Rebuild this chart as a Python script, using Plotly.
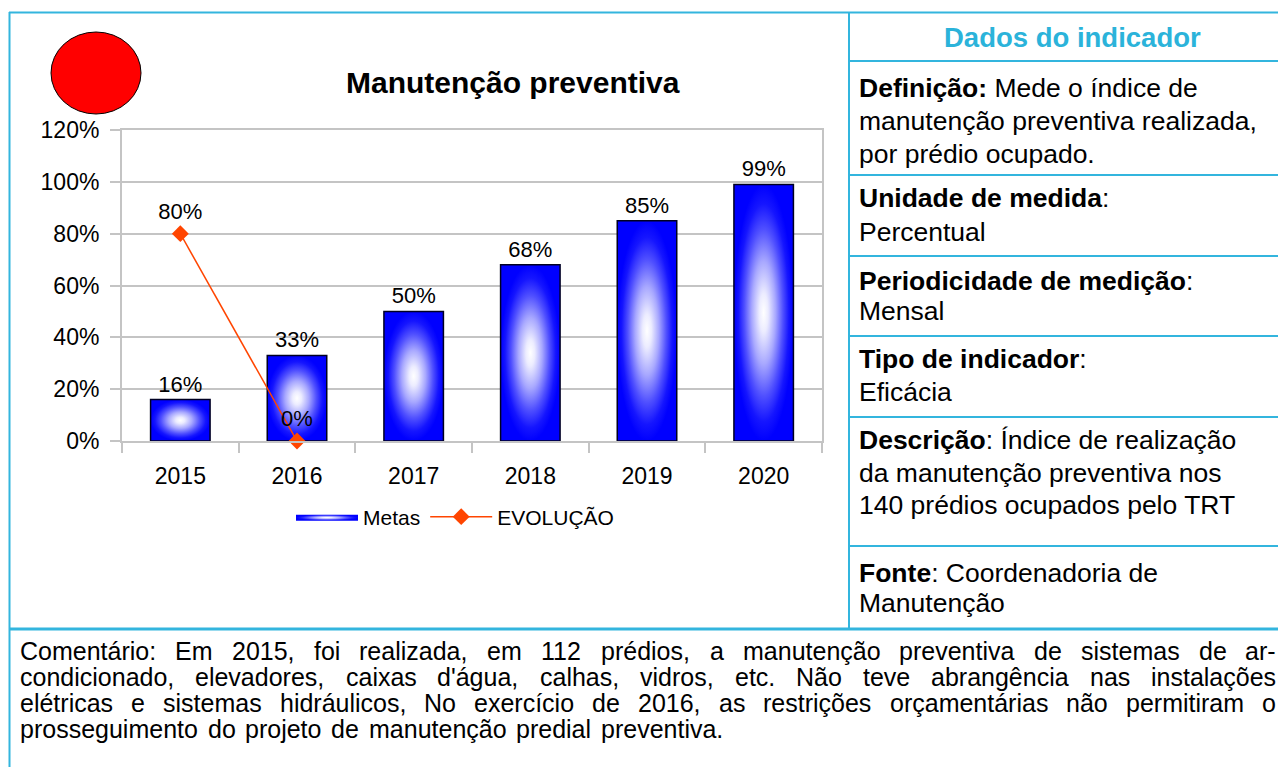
import plotly.graph_objects as go

# ---------------- data ----------------
years = ["2015", "2016", "2017", "2018", "2019", "2020"]
metas = [0.16, 0.33, 0.50, 0.68, 0.85, 0.99]
evolucao_years = ["2015", "2016"]
evolucao = [0.80, 0.00]
y_ticks = [0, 0.2, 0.4, 0.6, 0.8, 1.0, 1.2]

chart_title = "Manutenção preventiva"
panel_title = "Dados do indicador"
panel_lines = [
    "<b>Definição:</b> Mede o índice de",
    "manutenção preventiva realizada,",
    "por prédio ocupado.",
    "<b>Unidade de medida</b>:",
    "Percentual",
    "<b>Periodicidade de medição</b>:",
    "Mensal",
    "<b>Tipo de indicador</b>:",
    "Eficácia",
    "<b>Descrição</b>: Índice de realização",
    "da manutenção preventiva nos",
    "140 prédios ocupados pelo TRT",
    "<b>Fonte</b>: Coordenadoria de",
    "Manutenção",
]
comment_lines = [
    "Comentário: Em 2015, foi realizada, em 112 prédios, a manutenção preventiva de sistemas de ar-",
    "condicionado, elevadores, caixas d'água, calhas, vidros, etc. Não teve abrangência nas instalações",
    "elétricas e sistemas hidráulicos, No exercício de 2016, as restrições orçamentárias não permitiram o",
    "prosseguimento do projeto de manutenção predial preventiva.",
]

# ---------------- layout constants ----------------
W, H = 1286, 767          # browser window
OFF = 8                   # default page body margin
FW, FH = W - OFF, H - OFF # figure size
FONT = "Liberation Sans, Arial, sans-serif"
CYAN = "#33B5DE"
GRID = "#c4c4c4"


def px(x):
    return (x - OFF) / FW


def py(y):
    return 1 - (y - OFF) / FH


# Arial advance widths (per 1000 em)
AW = {' ': 278, ',': 278, '.': 278, ':': 278, '-': 333, "'": 191, '%': 889}
for d in "0123456789":
    AW[d] = 556
AW.update(dict(A=667, B=667, C=722, D=722, E=667, F=611, G=778, H=722, I=278, J=500,
               K=667, L=556, M=833, N=722, O=778, P=667, Q=778, R=722, S=667, T=611,
               U=722, V=667, W=944, X=667, Y=667, Z=611))
AW.update(dict(a=556, b=556, c=500, d=556, e=556, f=278, g=556, h=556, i=222, j=222,
               k=500, l=222, m=833, n=556, o=556, p=556, q=556, r=333, s=500, t=278,
               u=556, v=500, w=722, x=500, y=500, z=500))
AW.update({'á': 556, 'à': 556, 'â': 556, 'ã': 556, 'é': 556, 'ê': 556, 'í': 278,
           'ó': 556, 'ô': 556, 'õ': 556, 'ú': 556, 'ç': 500})


def text_w(s, size):
    return sum(AW.get(ch, 556) for ch in s) * size / 1000.0


fig = go.Figure()

# gradient-filled bars (Metas)
BW = 0.51
GRAD = [[0, "#ffffff"], [0.15, "#ececff"], [0.4, "#a8a8ff"], [0.65, "#5050ff"],
        [0.85, "#1515ff"], [1, "#0000ff"]]
for i, v in enumerate(metas):
    fig.add_trace(go.Scatter(
        x=[i - BW / 2, i + BW / 2, i + BW / 2, i - BW / 2, i - BW / 2],
        y=[0, 0, v, v, 0],
        mode="lines", fill="toself",
        line=dict(width=0, color="blue"),
        fillgradient=dict(type="radial", colorscale=GRAD),
        name="Metas", legendgroup="metas", showlegend=(i == 0),
        hoverinfo="skip",
    ))

# bar outlines + labels (on overlay axis that also carries the year labels)
fig.add_trace(go.Bar(
    x=list(range(len(years))), y=metas, width=BW, xaxis="x2",
    marker=dict(color="rgba(0,0,0,0)", line=dict(color="#000022", width=1.5)),
    text=[f"{round(v * 100)}%" for v in metas], textposition="outside",
    textfont=dict(size=22, color="black", family=FONT),
    cliponaxis=False, showlegend=False, name="Metas",
))

# evolution line
fig.add_trace(go.Scatter(
    x=[years.index(y) for y in evolucao_years], y=evolucao, xaxis="x2",
    mode="lines+markers+text", name="EVOLUÇÃO",
    line=dict(color="#FF4500", width=1.5),
    marker=dict(symbol="diamond", size=13, color="#FF4500"),
    text=[f"{round(v * 100)}%" for v in evolucao], textposition="top center",
    textfont=dict(size=22, color="black", family=FONT),
    cliponaxis=False,
))

shapes = []
# red indicator ellipse
shapes.append(dict(type="circle", xref="paper", yref="paper",
                   x0=px(51), x1=px(141), y0=py(114), y1=py(32),
                   fillcolor="#ff0000", line=dict(color="black", width=1)))


def hline(y, x0, x1, w=2):
    shapes.append(dict(type="line", xref="paper", yref="paper", x0=px(x0), x1=px(x1),
                       y0=py(y), y1=py(y), line=dict(color=CYAN, width=w)))


def vline(x, y0, y1, w=2):
    shapes.append(dict(type="line", xref="paper", yref="paper", x0=px(x), x1=px(x),
                       y0=py(y0), y1=py(y1), line=dict(color=CYAN, width=w)))


hline(12.5, 9, W)
vline(9.5, 12, H)
vline(849, 12, 629)
hline(629, 9, W, 3)
for yy in [61, 175, 256, 336, 417, 546]:
    hline(yy, 849, W)

annotations = []
annotations.append(dict(text=f"<b>{chart_title}</b>", xref="paper", yref="paper",
                        x=px(513), y=py(82), xanchor="center", yanchor="middle",
                        showarrow=False, font=dict(size=30, color="black", family=FONT)))
annotations.append(dict(text=f"<b>{panel_title}</b>", xref="paper", yref="paper",
                        x=px(1072), y=py(38), xanchor="center", yanchor="middle",
                        showarrow=False, font=dict(size=27.5, color="#2BB3DA", family=FONT)))
panel_y = [88, 121, 154, 198, 232, 281, 311, 359, 392, 440, 473, 505, 573, 603]
for t, yy in zip(panel_lines, panel_y):
    annotations.append(dict(text=t, xref="paper", yref="paper", x=px(859), y=py(yy),
                            xanchor="left", yanchor="middle", showarrow=False,
                            borderpad=0, borderwidth=0,
                            font=dict(size=26.5, color="black", family=FONT)))

# justified comment text
CS = 25
left, right = 20, 1276
comment_y = [651, 677, 703, 729]
for li, (line, yy) in enumerate(zip(comment_lines, comment_y)):
    words = line.split(" ")
    widths = [text_w(w_, CS) for w_ in words]
    if li < len(comment_lines) - 1:
        gap = (right - left - sum(widths)) / (len(words) - 1)
    else:
        gap = text_w(" ", CS) * 1.4
    xcur = left
    for w_, ww in zip(words, widths):
        annotations.append(dict(text=w_, xref="paper", yref="paper", x=px(xcur), y=py(yy),
                                xanchor="left", yanchor="middle", showarrow=False,
                                borderpad=0, borderwidth=0,
                                font=dict(size=CS, color="black", family=FONT)))
        xcur += ww + gap

fig.update_layout(
    width=FW, height=FH,
    margin=dict(l=0, r=0, t=0, b=0, autoexpand=False),
    paper_bgcolor="white", plot_bgcolor="white",
    font=dict(family=FONT, color="black"),
    showlegend=True,
    legend=dict(orientation="h", x=px(455), xanchor="center", y=py(517), yanchor="middle",
                font=dict(size=21, color="black", family=FONT), bgcolor="rgba(0,0,0,0)",
                traceorder="normal", itemwidth=62),
    xaxis=dict(domain=[px(122), px(822)], range=[-0.5, len(years) - 0.5],
               tickvals=[i - 0.5 for i in range(len(years) + 1)], showticklabels=False,
               ticks="outside", ticklen=10, tickwidth=2, tickcolor=GRID,
               showline=True, linecolor=GRID, linewidth=2, mirror=True,
               showgrid=False, zeroline=False, automargin=False),
    xaxis2=dict(overlaying="x", anchor="y", side="bottom",
                range=[-0.5, len(years) - 0.5], tickvals=list(range(len(years))),
                ticktext=years, ticks="", showline=False, showgrid=False, zeroline=False,
                tickfont=dict(size=23, color="black", family=FONT), ticklabelstandoff=19,
                automargin=False),
    yaxis=dict(domain=[py(441), py(130)], range=[0, 1.2], tickvals=y_ticks,
               tickformat=".0%", ticks="outside", ticklen=10, tickwidth=2, tickcolor=GRID,
               showline=True, linecolor=GRID, linewidth=2, mirror=True,
               showgrid=True, gridcolor=GRID, gridwidth=2, zeroline=False,
               tickfont=dict(size=23, color="black", family=FONT), ticklabelstandoff=6,
               automargin=False),
    shapes=shapes,
    annotations=annotations,
)

fig.write_html("out.html")
